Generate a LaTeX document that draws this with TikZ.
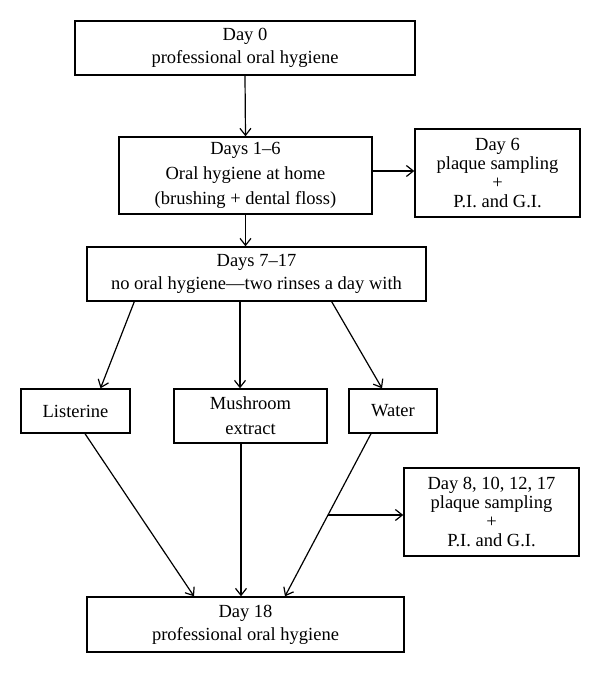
\documentclass[tikz,border=0pt]{standalone}
\usepackage{fontspec}
\setmainfont{Liberation Serif}
\usetikzlibrary{arrows.meta,positioning}

\begin{document}
\begin{tikzpicture}
    [
      x=1pt, y=1pt,
      stage/.style={draw, line width=1.4pt, align=center, inner sep=0pt,
        font=\fontsize{18.5}{23}\selectfont},
      loose/.style={font=\fontsize{18.5}{25}\selectfont},
      tight/.style={font=\fontsize{18.5}{19}\selectfont},
      post/.style={-{Straight Barb[length=7pt,width=11pt]}, line width=1.2pt},
    ]

    \useasboundingbox (0,0) rectangle (600,-673);

    \node (day0) [stage, minimum width=340pt, minimum height=54pt] at (245,-48)
      {Day 0\\professional oral hygiene};
    \node (days16) [stage, loose, minimum width=253pt, minimum height=77pt] at (245.5,-175.5)
      {Days 1--6\\Oral hygiene at home\\(brushing + dental floss)};
    \node (day6) [stage, tight, minimum width=165pt, minimum height=88pt] at (497.5,-173)
      {Day 6\\plaque sampling\\+\\P.I. and G.I.};
    \node (days717) [stage, minimum width=339pt, minimum height=54pt] at (256.5,-274)
      {Days 7--17\\no oral hygiene---two rinses a day with};

    \node (listerine) [stage, minimum width=109pt, minimum height=44pt] at (75.5,-411) {Listerine};
    \node (mushroom) [stage, loose, minimum width=153pt, minimum height=54pt] at (250.5,-416)
      {Mushroom\\extract};
    \node (water) [stage, minimum width=88pt, minimum height=44pt] at (393,-411) {Water};

    \node (day8) [stage, tight, minimum width=175pt, minimum height=88pt] at (491.5,-512)
      {Day 8, 10, 12, 17\\plaque sampling\\+\\P.I. and G.I.};
    \node (day18) [stage, minimum width=317pt, minimum height=55pt] at (245.5,-624.5)
      {Day 18\\professional oral hygiene};

    \path
    (day0.south) edge [post] (days16.north)
    ([yshift=4.5pt]days16.east) edge [post] ([yshift=4.5pt]days16.east -| day6.west)
    (days16.south) edge [post] (days16.south |- days717.north)

    ([xshift=48pt]days717.south west) edge [post] ([xshift=25pt]listerine.north)
    ([xshift=-16.5pt]days717.south) edge [post] ([xshift=-10.5pt]mushroom.north)
    ([xshift=-95pt]days717.south east) edge [post] ([xshift=-11pt]water.north)

    ([xshift=9.5pt]listerine.south) edge [post] ([xshift=-51.5pt]day18.north)
    ([xshift=-9.5pt]mushroom.south) edge [post] ([xshift=-9.5pt]mushroom.south |- day18.north)
    ;

    \draw [post] ([xshift=-22pt]water.south) -- coordinate[pos=0.5] (wsplit) ([xshift=39.5pt]day18.north);
    \path (wsplit) edge [post] (wsplit -| day8.west);

  \end{tikzpicture}
\end{document}
